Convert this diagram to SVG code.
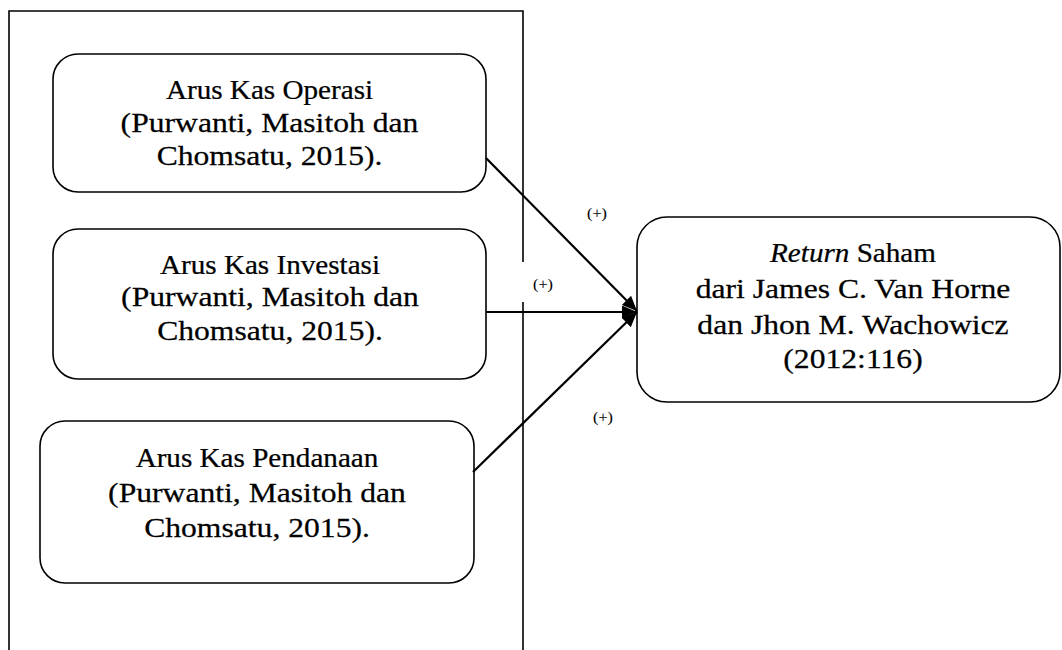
<svg xmlns="http://www.w3.org/2000/svg" width="1062" height="650" viewBox="0 0 1062 650">
<style>
.box{fill:#fff;stroke:#000;stroke-width:1.6}
.frame{fill:none;stroke:#000;stroke-width:1.6}
.conn{fill:none;stroke:#000;stroke-width:2.2}
text{font-family:"Liberation Serif","Times New Roman",serif;fill:#000;text-anchor:middle;stroke:#000;stroke-width:0.25}
.t1{font-size:26.5px}
.t2{font-size:28px}
.lbl{font-size:14px;stroke-width:0.1}
</style>
<defs>
<marker id="arr" markerUnits="userSpaceOnUse" markerWidth="16" markerHeight="14" refX="15" refY="6.5" orient="auto">
<path d="M0,0 L15,6.5 L0,13 z" fill="#000"/>
</marker>
</defs>
<rect width="1062" height="650" fill="#fff"/>
<g id="frame">
<path class="frame" d="M523,262 L523,11 L9,11 L9,660 M523,302 L523,660"/>
</g>
<g id="node-operasi">
<rect class="box" x="53" y="54" width="433" height="138" rx="25"/>
<g transform="translate(269.5,0) scale(1.1,1)"><text class="t1" x="0" y="99">Arus Kas Operasi</text></g>
<g transform="translate(269.5,0) scale(1.13,1)">
<text class="t2" x="0" y="132">(Purwanti, Masitoh dan</text>
<text class="t2" x="0" y="165">Chomsatu, 2015).</text>
</g>
</g>
<g id="node-investasi">
<rect class="box" x="53" y="229" width="433" height="150" rx="25"/>
<g transform="translate(270,0) scale(1.1,1)"><text class="t1" x="0" y="274">Arus Kas Investasi</text></g>
<g transform="translate(270,0) scale(1.13,1)">
<text class="t2" x="0" y="306">(Purwanti, Masitoh dan</text>
<text class="t2" x="0" y="340">Chomsatu, 2015).</text>
</g>
</g>
<g id="node-pendanaan">
<rect class="box" x="40" y="421" width="434" height="162" rx="25"/>
<g transform="translate(257,0) scale(1.1,1)"><text class="t1" x="0" y="467">Arus Kas Pendanaan</text></g>
<g transform="translate(257,0) scale(1.13,1)">
<text class="t2" x="0" y="502">(Purwanti, Masitoh dan</text>
<text class="t2" x="0" y="537">Chomsatu, 2015).</text>
</g>
</g>
<g id="node-return">
<rect class="box" x="637" y="217" width="423" height="185" rx="30"/>
<g transform="translate(853,0) scale(1.1,1)"><text class="t1" x="0" y="262"><tspan font-style="italic">Return</tspan> Saham</text></g>
<g transform="translate(853,0) scale(1.13,1)">
<text class="t2" x="0" y="298">dari James C. Van Horne</text>
<text class="t2" x="0" y="334">dan Jhon M. Wachowicz</text>
<text class="t2" x="0" y="368">(2012:116)</text>
</g>
</g>
<g id="connectors">
<line class="conn" x1="486" y1="158" x2="637" y2="311" marker-end="url(#arr)"/>
<line class="conn" x1="486" y1="312" x2="637" y2="312" marker-end="url(#arr)"/>
<line class="conn" x1="473" y1="472" x2="637" y2="312" marker-end="url(#arr)"/>
<g transform="translate(597,0) scale(1.15,1)"><text class="lbl" x="0" y="218">(+)</text></g>
<g transform="translate(543,0) scale(1.15,1)"><text class="lbl" x="0" y="289">(+)</text></g>
<g transform="translate(603,0) scale(1.15,1)"><text class="lbl" x="0" y="422">(+)</text></g>
</g>
</svg>
